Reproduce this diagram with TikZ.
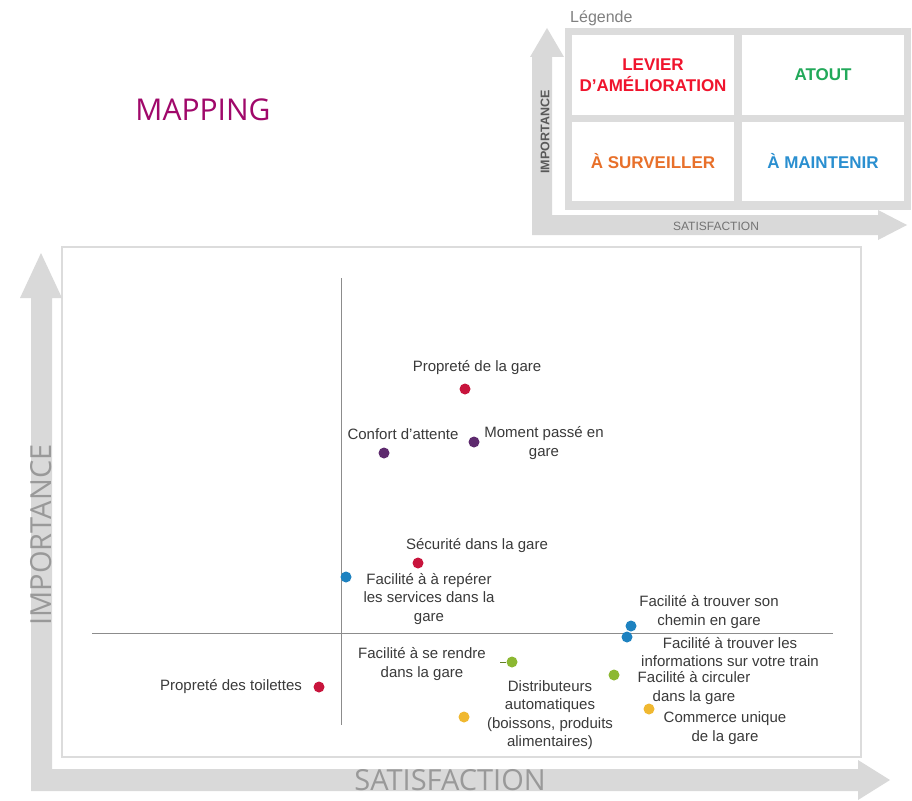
\documentclass[tikz,border=0pt]{standalone}
\usepackage{fontspec}
\setmainfont{Liberation Sans}
\newfontfamily\thinfont{Open Sans}
\definecolor{arrowgray}{HTML}{D9D9D9}
\definecolor{framegray}{HTML}{DCDCDC}
\definecolor{labelgray}{HTML}{3A3A3A}
\definecolor{crimson}{HTML}{C8143C}
\definecolor{plum}{HTML}{5E2A6E}
\definecolor{ptblue}{HTML}{1E82C0}
\definecolor{ptgreen}{HTML}{8CB832}
\definecolor{ptyellow}{HTML}{F0B830}
\definecolor{mapcol}{HTML}{A0086A}
\definecolor{levred}{HTML}{F0142D}
\definecolor{atgreen}{HTML}{22A95A}
\definecolor{survor}{HTML}{E8702A}
\definecolor{mainbl}{HTML}{2A8FD0}
\begin{document}
\begin{tikzpicture}[x=1pt,y=-1pt,
  lbl/.style={font=\fontsize{15}{18.5}\selectfont, text=labelgray, align=center, inner sep=0pt},
  dot/.style={circle, fill=#1, minimum size=11pt, inner sep=0pt},
  cell/.style={fill=white, minimum width=162pt, minimum height=79pt, inner sep=0pt, align=center, font=\fontsize{17}{21}\selectfont\bfseries},
  bigax/.style={font=\thinfont\fontsize{29}{29}\selectfont, text=black!40, inner sep=0pt},
  smallax/.style={font=\fontsize{12}{12}\selectfont, inner sep=0pt}
]
\useasboundingbox (0,0) rectangle (912,800);
\fill[white] (0,0) rectangle (912,800);

% title
\node[font=\thinfont\fontsize{30}{30}\selectfont, text=mapcol, inner sep=0pt] (title) at (203,110) {MAPPING};

% legend
\node[font=\fontsize{16}{16}\selectfont, text=black!50, inner sep=0pt, anchor=west] (legtitle) at (570,18) {Légende};
\fill[arrowgray] (530,57) -- (547,28) -- (564,57) -- (552,57) -- (552,215) -- (878,215) -- (878,210)
  -- (907,225) -- (878,240) -- (878,235) -- (532,235) -- (532,57) -- cycle;
\fill[framegray] (565,28) rectangle (911,210);
\node[cell, text=levred] (lev) at (653,75) {LEVIER\\D’AMÉLIORATION};
\node[cell, text=atgreen] (atout) at (823,75) {ATOUT};
\node[cell, text=survor] (surv) at (653,161) {À SURVEILLER};
\node[cell, text=mainbl] (maint) at (823,161) {À MAINTENIR};
\node[smallax, text=black!65, rotate=90, font=\fontsize{12.5}{12.5}\selectfont\bfseries] (limp) at (545,132) {IMPORTANCE};
\node[smallax, text=black!55] (lsat) at (716,226) {SATISFACTION};

% main panel
\draw[framegray, line width=1.5pt] (62,247) rectangle (861,757);
\fill[arrowgray] (20,298) -- (41,253) -- (62,298) -- (52,298) -- (52,769) -- (858,769) -- (858,760)
  -- (890,780) -- (858,800) -- (858,791) -- (31,791) -- (31,298) -- cycle;
\node[bigax, rotate=90] (imp) at (41,535) {IMPORTANCE};
\node[bigax] (sat) at (450,780) {SATISFACTION};

% quadrant lines
\coordinate (vt) at (341,278);
\coordinate (vb) at (341,725);
\coordinate (hl) at (92,633);
\coordinate (hr) at (833,633);
\draw[black!45, line width=0.6pt] (vt) -- (vb);
\draw[black!45, line width=0.6pt] (hl) -- (hr);

% points
\node[dot=crimson] (pg) at (465,389) {};
\node[lbl] (pgl) at (477,368) {Propreté de la gare};

\node[dot=plum] (ca) at (384,453) {};
\node[lbl] (cal) at (403,434) {Confort d'attente};

\node[dot=plum] (mp) at (474,442) {};
\node[lbl] (mpl) at (544,443) {Moment passé en\\gare};

\node[dot=crimson] (sg) at (418,563) {};
\node[lbl] (sgl) at (477,546) {Sécurité dans la gare};

\node[dot=ptblue] (fr) at (346,577) {};
\node[lbl] (frl) at (429,599) {Facilité à à repérer\\les services dans la\\gare};

\node[dot=ptblue] (tc) at (631,626) {};
\node[lbl] (tcl) at (709,612) {Facilité à trouver son\\chemin en gare};

\node[dot=ptblue] (ti) at (627,637) {};
\node[lbl] (til) at (730,652) {Facilité à trouver les\\informations sur votre train};

\node[dot=ptgreen] (sr) at (512,662) {};
\node[lbl] (srl) at (422,664) {Facilité à se rendre\\dans la gare};
\draw[ptgreen!70!black, line width=0.8pt] (500,662) -- (sr);

\node[dot=ptgreen] (cc) at (614,675) {};
\node[lbl] (ccl) at (694,688) {Facilité à circuler\\dans la gare};

\node[dot=crimson] (pt) at (319,687) {};
\node[lbl] (ptl) at (231,687) {Propreté des toilettes};

\node[dot=ptyellow] (da) at (464,717) {};
\node[lbl] (dal) at (550,715) {Distributeurs\\automatiques\\(boissons, produits\\alimentaires)};

\node[dot=ptyellow] (cu) at (649,709) {};
\node[lbl] (cul) at (725,728) {Commerce unique\\de la gare};
\end{tikzpicture}
\end{document}
